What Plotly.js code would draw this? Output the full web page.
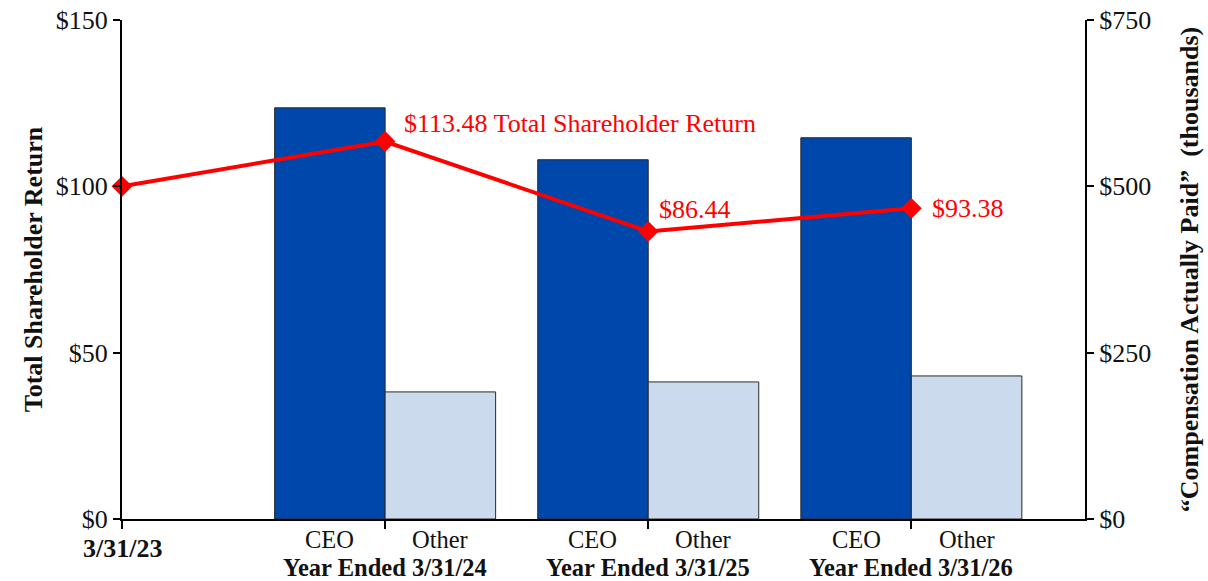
<!DOCTYPE html>
<html>
<head>
<meta charset="utf-8">
<script src="https://cdn.plot.ly/plotly-3.0.1.min.js"></script>
<style>html,body{margin:0;padding:0;background:#fff;}#chart{width:1208px;height:581px;}</style>
</head>
<body>
<div id="chart"></div>
<script>
// ---- data ----
const periods = ['3/31/23', 'Year Ended 3/31/24', 'Year Ended 3/31/25', 'Year Ended 3/31/26'];
const periodIndex = [0, 1, 2, 3];
const tsr = [100, 113.48, 86.44, 93.38];
const tsrLabels = ['', '$113.48 Total Shareholder Return', '$86.44', '$93.38'];
const barPeriods = [1, 2, 3];
const ceoCap = [618, 540, 573];
const otherCap = [191, 206, 215];
const barNames = ['CEO', 'Other'];
const leftTicks = [0, 50, 100, 150];
const rightTicks = [0, 250, 500, 750];

const FONT = 'Liberation Serif, Times New Roman, serif';
const CEO_COLOR = '#0047AB';
const OTHER_COLOR = '#CCDAEE';
const RED = '#FF0000';
const BW = 0.42;
const FS = 26;
const FSB = 24.5;

const traces = [
  {
    type: 'bar', name: barNames[0], x: barPeriods, y: ceoCap, yaxis: 'y',
    width: BW, offset: -BW,
    marker: {color: CEO_COLOR, line: {color: '#2a2a2a', width: 1}}, hoverinfo: 'skip'
  },
  {
    type: 'bar', name: barNames[1], x: barPeriods, y: otherCap, yaxis: 'y',
    width: BW, offset: 0,
    marker: {color: OTHER_COLOR, line: {color: '#2a2a2a', width: 1}}, hoverinfo: 'skip'
  },
  {
    type: 'scatter', mode: 'lines+markers', name: 'TSR', x: periodIndex, y: tsr, yaxis: 'y2',
    line: {color: RED, width: 4},
    marker: {symbol: 'diamond', size: 16, color: RED}, cliponaxis: false
  }
];

const annotations = [];
const shifts = [[0,0],[17,18],[9,22],[19,0]];
tsr.forEach((v, i) => {
  if (!tsrLabels[i]) return;
  annotations.push({
    x: periodIndex[i], y: v, xref: 'x', yref: 'y2', text: tsrLabels[i], showarrow: false,
    xanchor: 'left', yanchor: 'middle', xshift: shifts[i][0], yshift: shifts[i][1],
    font: {family: FONT, size: FS, color: RED}
  });
});
barPeriods.forEach((p) => {
  annotations.push({x: p - BW/2, y: 0, xref: 'x', yref: 'paper', text: barNames[0], showarrow: false,
    yanchor: 'middle', borderpad: 0, yshift: -20, font: {family: FONT, size: FSB, color: '#111'}});
  annotations.push({x: p + BW/2, y: 0, xref: 'x', yref: 'paper', text: barNames[1], showarrow: false,
    yanchor: 'middle', borderpad: 0, yshift: -20, font: {family: FONT, size: FSB, color: '#111'}});
});
periods.forEach((t, i) => {
  annotations.push({x: periodIndex[i], y: 0, xref: 'x', yref: 'paper', text: '<b>' + t + '</b>', showarrow: false,
    yanchor: 'middle', borderpad: 0, yshift: i === 0 ? -29 : -48, font: {family: FONT, size: i === 0 ? FS : FSB, color: '#111'}});
});

const layout = {
  width: 1208, height: 581,
  margin: {l: 122, r: 123, t: 20, b: 62},
  paper_bgcolor: '#fff', plot_bgcolor: '#fff',
  showlegend: false,
  bargap: 0,
  font: {family: FONT, color: '#111'},
  xaxis: {
    range: [0, 3.66], tickvals: periodIndex, showticklabels: false,
    ticks: 'outside', ticklen: 8, tickwidth: 2, tickcolor: '#000',
    showline: true, linecolor: '#000', linewidth: 2, showgrid: false, zeroline: false, fixedrange: true
  },
  yaxis: {
    range: [0, 750], side: 'right', tickvals: rightTicks, ticktext: rightTicks.map(v => '$' + v),
    ticks: 'outside', ticklen: 7, tickwidth: 2, tickcolor: '#000',
    showline: true, linecolor: '#000', linewidth: 2, showgrid: false, zeroline: false,
    tickfont: {family: FONT, size: FS, color: '#111'},
    title: {text: '<b>\u201cCompensation Actually Paid\u201d  (thousands)</b>', font: {family: FONT, size: FS, color: '#111'}, standoff: 30}
  },
  yaxis2: {
    range: [0, 150], overlaying: 'y', side: 'left', tickvals: leftTicks, ticktext: leftTicks.map(v => '$' + v),
    ticks: 'outside', ticklen: 7, tickwidth: 2, tickcolor: '#000',
    showline: true, linecolor: '#000', linewidth: 2, showgrid: false, zeroline: false,
    tickfont: {family: FONT, size: FS, color: '#111'},
    title: {text: '<b>Total Shareholder Return</b>', font: {family: FONT, size: FS, color: '#111'}, standoff: 6}
  },
  annotations: annotations
};

Plotly.newPlot('chart', traces, layout, {displayModeBar: false, staticPlot: true});
</script>
</body>
</html>
